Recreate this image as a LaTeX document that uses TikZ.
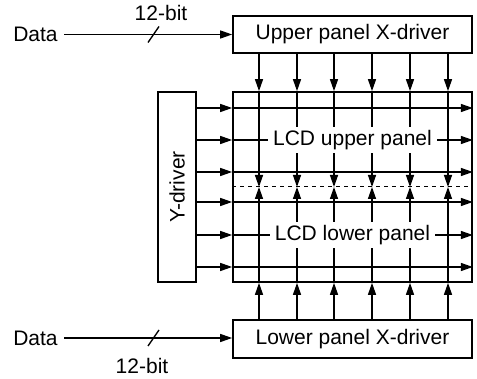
\documentclass[tikz,border=0pt]{standalone}
\usepackage{fontspec}
\setmainfont{Liberation Sans}
\usetikzlibrary{arrows.meta,calc}
\begin{document}
\begin{tikzpicture}[x=1pt,y=-1pt,
  font=\fontsize{21}{25}\selectfont,
  line width=1.35pt,
  box/.style={draw, line width=1.7pt, inner sep=0pt},
  arr/.style={-{Triangle[length=12pt,width=8pt]}},
  lbl/.style={fill=white, inner xsep=5pt, inner ysep=3pt},
  txt/.style={inner sep=0pt}]
\useasboundingbox (0,0) rectangle (477,379);
% boxes
\node[box, minimum width=239pt, minimum height=37pt] (upx) at (352.5,34.5) {Upper panel X-driver};
\node[box, minimum width=239pt, minimum height=190pt] (panel) at (352.5,187) {};
\node[box, minimum width=239pt, minimum height=38pt] (lox) at (352.5,339) {Lower panel X-driver};
\node[box, minimum width=38pt, minimum height=190pt] (ydrv) at (177,187) {};
\node[txt, rotate=90] (ylab) at (ydrv.center) {Y-driver};
% data inputs
\node[txt] (data1) at (35.5,34.5) {Data};
\node[txt] (data2) at (35.5,338) {Data};
\node[txt] (bit1) at (161,13) {12-bit};
\node[txt] (bit2) at (142,366) {12-bit};
\coordinate (s1) at (153.5,34.5);
\coordinate (s2) at (153.5,338);
\draw[arr] ([xshift=6pt]data1.east) -- (data1.east -| upx.west);
\draw[arr] ([xshift=6pt]data2.east) -- (data2.east -| lox.west);
\draw ($(s1)+(-5.5,8)$) -- ($(s1)+(5.5,-8)$);
\draw ($(s2)+(-5.5,8)$) -- ($(s2)+(5.5,-8)$);
% columns and rows
\foreach \i/\x in {1/259,2/297,3/334,4/372,5/410,6/448} {\coordinate (c\i) at (\x,187);}
\foreach \i/\y in {1/108,2/140,3/172,4/202,5/235,6/267} {\coordinate (r\i) at (352.5,\y);}
\coordinate (mid) at (352.5,187);
% vertical arrows
\foreach \i in {1,...,6} {
  \draw[arr] (upx.south -| c\i) -- (panel.north -| c\i);
  \draw[arr] (panel.north -| c\i) -- (c\i);
  \draw[arr] (lox.north -| c\i) -- (panel.south -| c\i);
  \draw[arr] (panel.south -| c\i) -- (c\i);
}
% horizontal arrows
\foreach \i in {1,...,6} {
  \draw[arr] (ydrv.east |- r\i) -- (panel.west |- r\i);
  \draw[arr] (panel.west |- r\i) -- (panel.east |- r\i);
}
% dashed separation
\draw[line width=1pt, dash pattern=on 4pt off 4pt] (panel.west |- mid) -- (panel.east |- mid);
% labels
\node[lbl] (uplab) at (r2) {LCD upper panel};
\node[lbl] (lolab) at (r5) {LCD lower panel};
\end{tikzpicture}
\end{document}
